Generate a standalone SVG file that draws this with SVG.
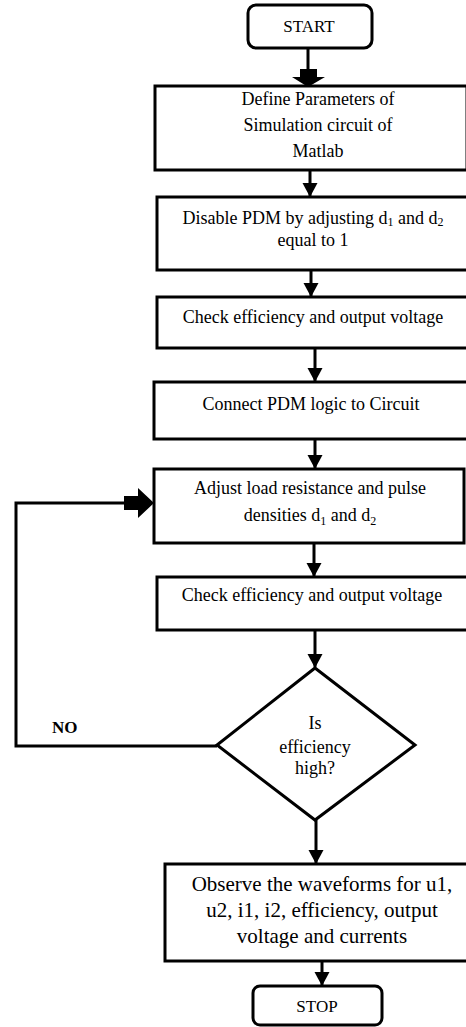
<svg xmlns="http://www.w3.org/2000/svg" width="466" height="1027" viewBox="0 0 466 1027">
<defs>
<style>
.box{fill:#fff;stroke:#000;stroke-width:3}
.t{font-family:"Liberation Serif","Times New Roman",serif;font-size:18px;fill:#000;text-anchor:middle}
.big{font-size:21px}
.term{font-size:17px}
.no{font-weight:bold;font-size:17px;text-anchor:start}
.ln{fill:none;stroke:#000;stroke-width:3}
.sub{font-size:12px}
</style>
<marker id="ah" markerUnits="userSpaceOnUse" markerWidth="16" markerHeight="16" refX="13" refY="8" orient="auto" viewBox="0 0 16 16">
<path d="M0,0.5 L14,8 L0,15.5 z" fill="#000"/>
</marker>
</defs>
<g id="connectors">
<line class="ln" x1="308" y1="48" x2="308" y2="72"/>
<polygon points="300,69 317,69 317,77 325,77 308,87 292,77 300,77" fill="#000"/>
<line class="ln" x1="310" y1="170" x2="310" y2="196" marker-end="url(#ah)"/>
<line class="ln" x1="311" y1="270" x2="311" y2="296" marker-end="url(#ah)"/>
<line class="ln" x1="315" y1="348" x2="315" y2="381" marker-end="url(#ah)"/>
<line class="ln" x1="315" y1="439" x2="315" y2="468" marker-end="url(#ah)"/>
<line class="ln" x1="314" y1="543" x2="314" y2="576" marker-end="url(#ah)"/>
<line class="ln" x1="315" y1="630" x2="315" y2="667" marker-end="url(#ah)"/>
<line class="ln" x1="316" y1="820" x2="316" y2="863" marker-end="url(#ah)"/>
<line class="ln" x1="322" y1="961" x2="322" y2="985" marker-end="url(#ah)"/>
<polyline class="ln" points="217,746 16,746 16,503 126,503"/>
<polygon points="124,496 138,496 138,488 154,503 138,518 138,510 124,510" fill="#000"/>
</g>
<g id="start">
<rect class="box" x="248" y="5" width="124" height="43" rx="8"/>
<text class="t term" x="309" y="32">START</text>
</g>
<g id="define">
<rect class="box" x="155" y="86" width="312" height="84"/>
<text class="t" x="318" y="105">Define Parameters of</text>
<text class="t" x="318" y="131">Simulation circuit of</text>
<text class="t" x="318" y="157">Matlab</text>
</g>
<g id="disable">
<rect class="box" x="157" y="197" width="312" height="73"/>
<text class="t" x="313" y="224">Disable PDM by adjusting d<tspan class="sub" dy="2">1</tspan><tspan dy="-2"> and d</tspan><tspan class="sub" dy="2">2</tspan></text>
<text class="t" x="313" y="246">equal to 1</text>
</g>
<g id="check1">
<rect class="box" x="157" y="297" width="312" height="51"/>
<text class="t" x="313" y="323">Check efficiency and output voltage</text>
</g>
<g id="connect">
<rect class="box" x="154" y="382" width="314" height="57"/>
<text class="t" x="311" y="410">Connect PDM logic to Circuit</text>
</g>
<g id="adjust">
<rect class="box" x="154" y="469" width="310" height="74"/>
<text class="t" x="310" y="494">Adjust load resistance and pulse</text>
<text class="t" x="310" y="521">densities d<tspan class="sub" dy="4">1</tspan><tspan dy="-4"> and d</tspan><tspan class="sub" dy="4">2</tspan></text>
</g>
<g id="check2">
<rect class="box" x="157" y="577" width="312" height="53"/>
<text class="t" x="312" y="601">Check efficiency and output voltage</text>
</g>
<g id="decision">
<polygon class="box" points="315,668 415,745 315,820 217,745"/>
<text class="t" x="315" y="729">Is</text>
<text class="t" x="315" y="753">efficiency</text>
<text class="t" x="315" y="774">high?</text>
</g>
<text class="t no" x="52" y="733">NO</text>
<g id="observe">
<rect class="box" x="165" y="864" width="303" height="97"/>
<text class="t big" x="322" y="891">Observe the waveforms for u1,</text>
<text class="t big" x="322" y="917">u2, i1, i2, efficiency, output</text>
<text class="t big" x="322" y="943">voltage and currents</text>
</g>
<g id="stop">
<rect class="box" x="253" y="986" width="129" height="39" rx="7"/>
<text class="t term" x="317" y="1012">STOP</text>
</g>
</svg>
